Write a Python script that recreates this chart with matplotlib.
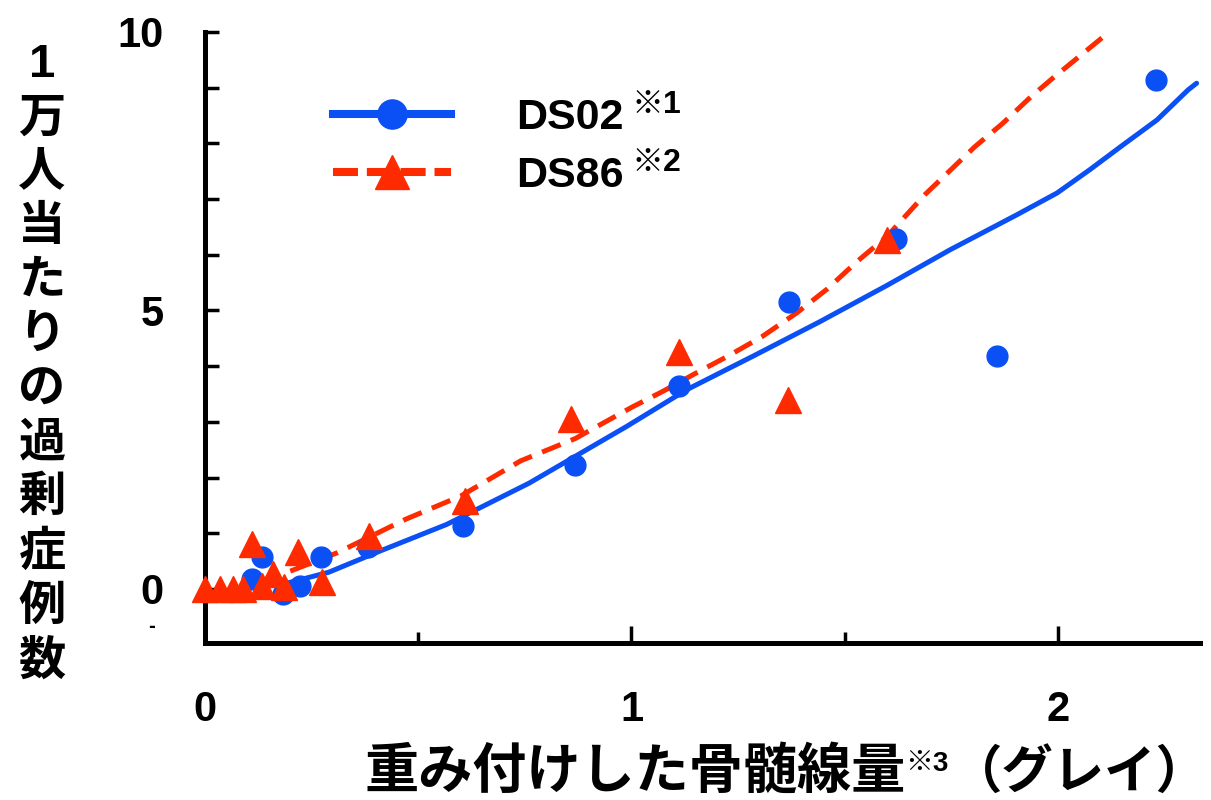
import matplotlib.pyplot as plt
from matplotlib.lines import Line2D

# measured points (dose in Gy, excess cases per 10,000)
ds02_x = [0.11, 0.134, 0.183, 0.223, 0.272, 0.382, 0.605, 0.868, 1.111, 1.369, 1.62, 1.857, 2.23]
ds02_y = [0.18, 0.57, -0.09, 0.05, 0.57, 0.75, 1.13, 2.22, 3.64, 5.16, 6.29, 4.18, 9.13]

ds86_x = [0.0, 0.035, 0.065, 0.09, 0.11, 0.134, 0.16, 0.185, 0.218, 0.274, 0.385, 0.61, 0.858, 1.111, 1.367, 1.60]
ds86_y = [0.0, 0.0, 0.0, 0.0, 0.8, 0.05, 0.27, 0.03, 0.66, 0.12, 0.95, 1.58, 3.05, 4.25, 3.4, 6.27]

# fitted curves
fit02_x = [0.19, 0.29, 0.41, 0.567, 0.76, 0.989, 1.13, 1.285, 1.442, 1.599, 1.747, 1.904,
           1.998, 2.075, 2.152, 2.232, 2.305, 2.325]
fit02_y = [0.1, 0.3, 0.68, 1.16, 1.9, 2.92, 3.58, 4.18, 4.8, 5.45, 6.09, 6.72,
           7.11, 7.53, 7.97, 8.42, 8.96, 9.08]

fit86_x = [0.2, 0.31, 0.47, 0.6, 0.74, 0.868, 1.0, 1.074, 1.145, 1.226, 1.306, 1.388, 1.458,
           1.529, 1.599, 1.688, 1.805, 1.869, 1.937, 1.986, 2.12]
fit86_y = [0.32, 0.65, 1.25, 1.67, 2.3, 2.7, 3.26, 3.55, 3.85, 4.18, 4.53, 4.96, 5.38,
           5.88, 6.33, 7.08, 7.94, 8.35, 8.84, 9.16, 10.0]

blue = '#0A50F5'
red = '#FF2B00'
num_font = ['Liberation Sans', 'Noto Sans CJK JP']
jp_font = ['Noto Sans CJK JP', 'Liberation Sans']

fig = plt.figure(figsize=(12.11, 8), dpi=100)
ax = fig.add_axes([205/1211, 1 - 643/800, (1200 - 205)/1211, (643 - 32)/800])

ax.plot(fit02_x, fit02_y, color=blue, lw=3.6, solid_capstyle='round', zorder=2)
ax.plot(fit86_x, fit86_y, color=red, lw=3.6, dashes=(4, 2.2), zorder=2)
ax.plot(ds02_x, ds02_y, 'o', color=blue, ms=15, clip_on=False, zorder=3)
ax.plot(ds86_x, ds86_y, '^', color=red, ms=19, clip_on=False, zorder=3)

ax.set_xlim(0, 2.333)
ax.set_ylim(-0.97, 10)

for s in ['top', 'right']:
    ax.spines[s].set_visible(False)
for s in ['left', 'bottom']:
    ax.spines[s].set_linewidth(3.6)

ax.set_yticks(range(0, 11))
ax.set_yticklabels(['0', '', '', '', '', '5', '', '', '', '', '10'])
ax.set_xticks([0, 1, 2])
ax.set_xticklabels(['0', '1', '2'])
ax.set_xticks([0.5, 1.5], minor=True)
ax.tick_params(axis='y', direction='in', length=10, width=2.5, pad=30)
ax.tick_params(axis='x', which='major', direction='in', length=12, width=2.5, pad=34)
ax.tick_params(axis='x', which='minor', direction='in', length=8, width=2.5)
for lab in ax.get_xticklabels() + ax.get_yticklabels():
    lab.set_fontfamily(num_font)
    lab.set_fontweight('bold')
    lab.set_fontsize(30)

fig.text(152/1211, 1 - 627/800, '-', fontsize=12, fontweight='bold', ha='center', va='center')

# legend
h02 = Line2D([], [], color=blue, lw=5.8, marker='o', ms=21)
h86 = Line2D([], [], color=red, lw=5.8, dashes=(3.1, 1.1), marker='^', ms=24)
leg = ax.legend([h02, h86], ['DS02', 'DS86'], loc='upper left', bbox_to_anchor=(333/1211, 1 - 98/800),
                bbox_transform=fig.transFigure, frameon=False, handlelength=2.75,
                handletextpad=1.5, labelspacing=0.42, borderpad=0, borderaxespad=0,
                prop={'family': num_font, 'weight': 'bold', 'size': 31})
fig.text(632/1211, 1 - 105/800, '※1', fontsize=23, fontweight='bold', family=num_font, va='center')
fig.text(632/1211, 1 - 163/800, '※2', fontsize=23, fontweight='bold', family=num_font, va='center')

# y label, stacked vertically
ylab = '\n'.join('1万人当たりの過剰症例数')
fig.text(42/1211, 1 - 43/800, ylab, family=num_font, fontsize=34, fontweight='bold',
         ha='center', va='top', linespacing=1.3, multialignment='center')

# x label
fig.text(906/1211, 1 - 788/800, '重み付けした骨髄線量', family=jp_font, fontsize=39,
         fontweight='bold', ha='right', va='baseline')
fig.text(905/1211, 1 - 764/800, '※3', family=num_font, fontsize=20,
         fontweight='bold', ha='left', va='center')
fig.text(951/1211, 1 - 788/800, '（グレイ）', family=jp_font, fontsize=37,
         fontweight='bold', ha='left', va='baseline')

fig.savefig('out.png', dpi=100)
